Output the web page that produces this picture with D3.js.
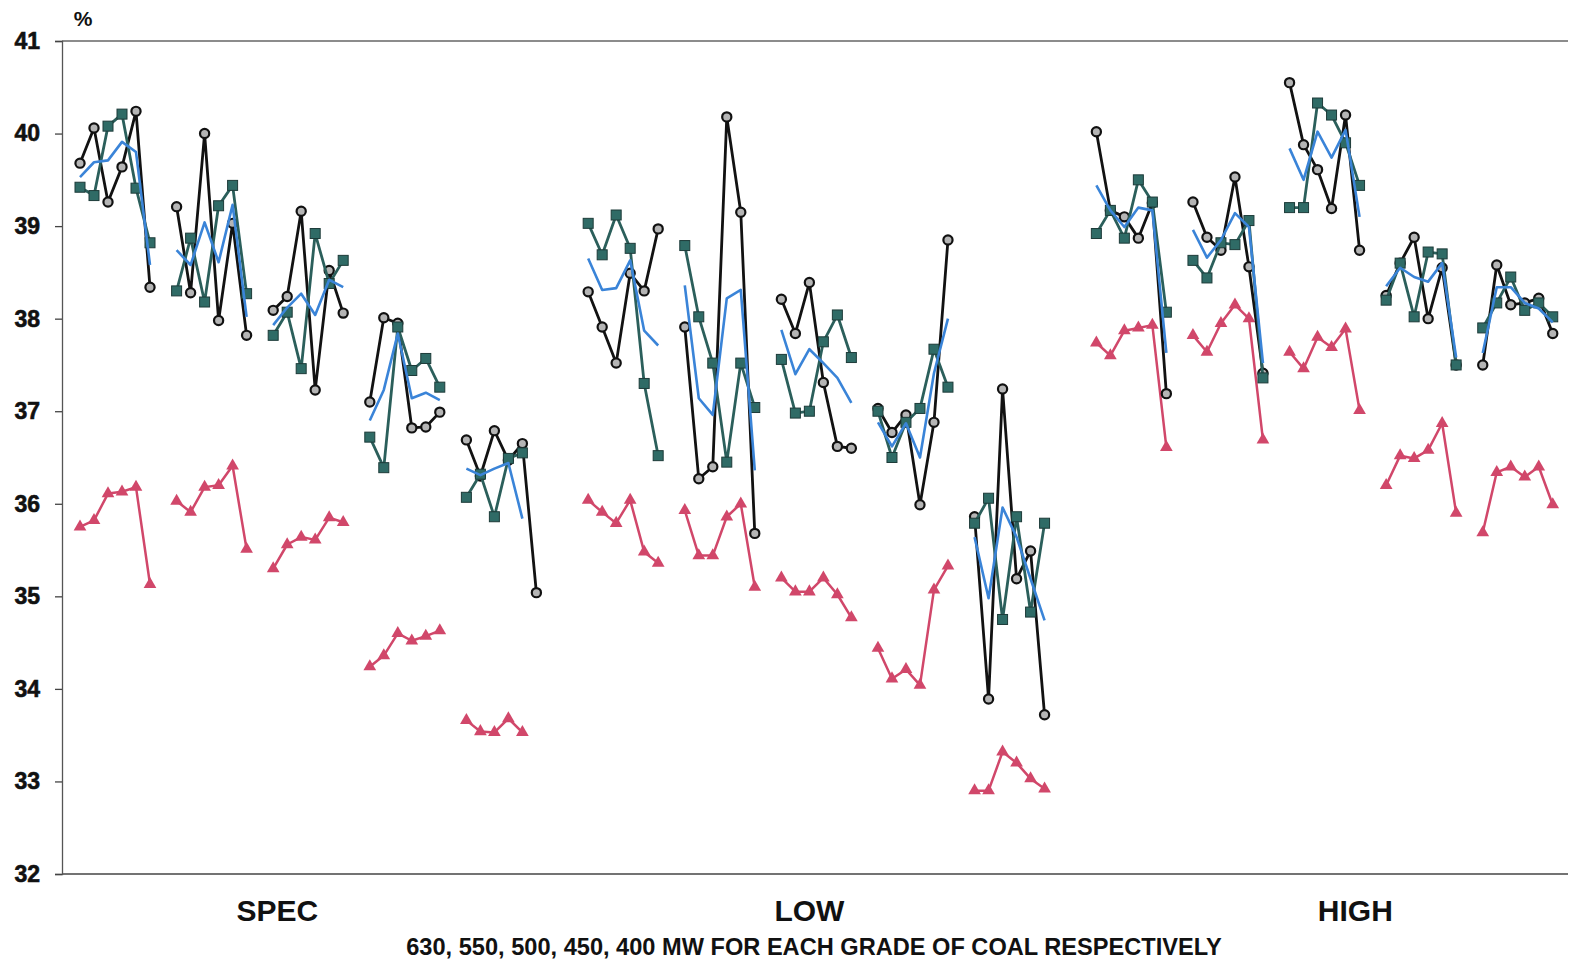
<!DOCTYPE html>
<html>
<head>
<meta charset="utf-8">
<script src="https://cdn.jsdelivr.net/npm/d3@7"></script>
<style>
  html, body { margin: 0; padding: 0; background: #fff; }
  svg { display: block; }
  text { font-family: "Liberation Sans", Arial, sans-serif; font-weight: bold; fill: #111; }
</style>
</head>
<body>
<svg id="chart" width="1569" height="966"></svg>
<script>
// ---------------- DATA ----------------
const groups = ["SPEC", "LOW", "HIGH"];
const loads = ["630", "550", "500", "450", "400"];
const yTicks = [32, 33, 34, 35, 36, 37, 38, 39, 40, 41];
const yUnit = "%";
const xNote = "630, 550, 500, 450, 400 MW FOR EACH GRADE OF COAL RESPECTIVELY";

// each series: 15 subgroups (SPEC 630..400, LOW 630..400, HIGH 630..400)
const blackSeries = [
  [39.68, 40.06, 39.26, 39.64, 40.24, 38.34],
  [39.21, 38.28, 40.00, 37.98, 39.03, 37.82],
  [38.09, 38.24, 39.16, 37.23, 38.52, 38.06],
  [37.10, 38.01, 37.95, 36.82, 36.83, 36.99],
  [36.69, 36.30, 36.79, 36.47, 36.65, 35.04],
  [38.29, 37.91, 37.52, 38.49, 38.30, 38.97],
  [37.91, 36.27, 36.40, 40.18, 39.15, 35.68],
  [38.21, 37.84, 38.39, 37.31, 36.62, 36.60],
  [37.03, 36.77, 36.96, 35.99, 36.88, 38.85],
  [35.86, 33.89, 37.24, 35.19, 35.49, 33.72],
  [40.02, 39.17, 39.10, 38.87, 39.25, 37.19],
  [39.26, 38.88, 38.74, 39.53, 38.56, 37.41],
  [40.55, 39.88, 39.61, 39.19, 40.20, 38.74],
  [38.25, 38.60, 38.88, 38.00, 38.55, 37.50],
  [37.50, 38.58, 38.15, 38.17, 38.22, 37.84]
];
const tealSeries = [
  [39.42, 39.33, 40.08, 40.21, 39.41, 38.82],
  [38.30, 38.87, 38.18, 39.22, 39.44, 38.27],
  [37.82, 38.07, 37.46, 38.92, 38.38, 38.63],
  [36.72, 36.39, 37.91, 37.44, 37.57, 37.26],
  [36.07, 36.32, 35.86, 36.49, 36.55],
  [39.03, 38.69, 39.12, 38.76, 37.30, 36.52],
  [38.79, 38.02, 37.52, 36.45, 37.52, 37.04],
  [37.56, 36.98, 37.00, 37.75, 38.04, 37.58],
  [37.00, 36.50, 36.88, 37.03, 37.67, 37.26],
  [35.79, 36.06, 34.75, 35.86, 34.83, 35.79],
  [38.92, 39.17, 38.87, 39.50, 39.26, 38.07],
  [38.63, 38.44, 38.82, 38.80, 39.06, 37.36],
  [39.20, 39.20, 40.33, 40.20, 39.90, 39.44],
  [38.20, 38.60, 38.02, 38.72, 38.70, 37.50],
  [37.90, 38.17, 38.45, 38.09, 38.17, 38.02]
];
const blueSeries = [
  [39.53, 39.69, 39.71, 39.91, 39.80, 38.58],
  [38.74, 38.58, 39.04, 38.61, 39.23, 38.02],
  [37.93, 38.12, 38.27, 38.04, 38.42, 38.34],
  [36.90, 37.23, 37.84, 37.14, 37.20, 37.12],
  [36.38, 36.31, 36.38, 36.44, 35.84],
  [38.65, 38.31, 38.33, 38.63, 37.87, 37.71],
  [38.36, 37.14, 36.96, 38.22, 38.31, 36.36],
  [37.88, 37.40, 37.67, 37.52, 37.36, 37.09],
  [36.88, 36.62, 36.87, 36.50, 37.41, 38.00],
  [35.64, 34.98, 35.96, 35.64, 35.19, 34.74],
  [39.44, 39.17, 38.99, 39.20, 39.17, 37.63],
  [38.96, 38.66, 38.85, 39.14, 38.99, 37.52],
  [39.84, 39.50, 40.02, 39.74, 40.04, 39.10],
  [38.35, 38.55, 38.45, 38.40, 38.60, 37.58],
  [37.63, 38.34, 38.34, 38.17, 38.11, 37.96]
];
const redSeries = [
  [35.75, 35.82, 36.11, 36.13, 36.18, 35.13],
  [36.03, 35.91, 36.18, 36.20, 36.41, 35.51],
  [35.30, 35.56, 35.64, 35.61, 35.85, 35.80],
  [34.24, 34.36, 34.60, 34.52, 34.57, 34.63],
  [33.66, 33.54, 33.53, 33.68, 33.53],
  [36.04, 35.91, 35.79, 36.04, 35.48, 35.36],
  [35.93, 35.44, 35.44, 35.86, 36.00, 35.10],
  [35.20, 35.05, 35.05, 35.20, 35.02, 34.77],
  [34.44, 34.11, 34.21, 34.04, 35.07, 35.33],
  [32.90, 32.90, 33.32, 33.20, 33.03, 32.92],
  [37.74, 37.60, 37.87, 37.90, 37.93, 36.61],
  [37.82, 37.64, 37.95, 38.15, 38.00, 36.69],
  [37.64, 37.46, 37.80, 37.69, 37.89, 37.01],
  [36.20, 36.52, 36.49, 36.58, 36.87, 35.90],
  [35.69, 36.34, 36.40, 36.29, 36.40, 35.99]
];

// ---------------- LAYOUT ----------------
const W = 1569, H = 966;
const plot = { left: 62, right: 1568, top: 41, bottom: 874 };
const GROUP_STEP = 36.3, SUB_STEP = 6.9;       // in point-step units
const labelU = [14.1, 52.1, 91.1];               // group label positions (units)

const svg = d3.select("#chart");
svg.append("rect").attr("width", W).attr("height", H).attr("fill", "#fff");

const x = d3.scaleLinear().domain([-1.286, 106.29]).range([plot.left, plot.right]);
const y = d3.scaleLinear().domain([32, 41]).range([plot.bottom, plot.top]);

const uPos = (k, i) => Math.floor(k / 5) * GROUP_STEP + (k % 5) * SUB_STEP + i;

// frame lines
svg.append("line").attr("x1", plot.left).attr("x2", plot.right)
  .attr("y1", y(41)).attr("y2", y(41)).attr("stroke", "#666").attr("stroke-width", 1.4);
svg.append("line").attr("x1", plot.left).attr("x2", plot.right)
  .attr("y1", y(32)).attr("y2", y(32)).attr("stroke", "#444").attr("stroke-width", 1.4);

// y axis
const yAxis = d3.axisLeft(y).tickValues(yTicks).tickSize(7).tickPadding(15).tickFormat(d3.format("d"));
const gy = svg.append("g").attr("transform", `translate(${plot.left},0)`).call(yAxis);
gy.select(".domain").attr("stroke", "#555").attr("stroke-width", 1.3);
gy.selectAll(".tick line").attr("stroke", "#444").attr("stroke-width", 1.3);
gy.selectAll(".tick text").style("font-size", "23px").style("font-weight", "bold")
  .style("font-family", "'Liberation Sans', Arial, sans-serif").attr("fill", "#111")
  .attr("stroke", "#111").attr("stroke-width", 0.6);

svg.append("text").attr("x", 83).attr("y", 26).attr("text-anchor", "middle")
  .style("font-size", "21px").text(yUnit);

// group labels
svg.selectAll(".glabel").data(groups).enter().append("text")
  .attr("class", "glabel")
  .attr("x", (d, i) => x(labelU[i])).attr("y", 921)
  .attr("text-anchor", "middle").style("font-size", "30px").text(d => d);

svg.append("text").attr("x", 814).attr("y", 955).attr("text-anchor", "middle")
  .style("font-size", "23.6px").text(xNote);

// ---------------- SERIES ----------------
const line = d3.line().x(d => x(d.u)).y(d => y(d.v));

function toPts(series) {
  return series.map((arr, k) => arr.map((v, i) => ({ u: uPos(k, i), v })));
}

function drawLines(series, color, width) {
  svg.append("g").selectAll("path").data(toPts(series)).enter().append("path")
    .attr("d", line).attr("fill", "none").attr("stroke", color)
    .attr("stroke-width", width).attr("stroke-linejoin", "round");
}

// red
drawLines(redSeries, "#d1476a", 2.5);
svg.append("g").selectAll("path").data(toPts(redSeries).flat()).enter().append("path")
  .attr("d", d3.symbol().type(d3.symbolTriangle).size(70))
  .attr("transform", d => `translate(${x(d.u)},${y(d.v)})`)
  .attr("fill", "#d1476a");

// black
drawLines(blackSeries, "#121212", 2.8);
svg.append("g").selectAll("circle").data(toPts(blackSeries).flat()).enter().append("circle")
  .attr("cx", d => x(d.u)).attr("cy", d => y(d.v)).attr("r", 4.6)
  .attr("fill", "#b5b5b5").attr("stroke", "#111").attr("stroke-width", 2.2);

// teal
drawLines(tealSeries, "#2b5f5b", 2.8);
svg.append("g").selectAll("rect").data(toPts(tealSeries).flat()).enter().append("rect")
  .attr("x", d => x(d.u) - 5).attr("y", d => y(d.v) - 5)
  .attr("width", 10).attr("height", 10)
  .attr("fill", "#2f6b66").attr("stroke", "#1d3b39").attr("stroke-width", 1);

// blue
drawLines(blueSeries, "#3a84d8", 2.6);
</script>
</body>
</html>
